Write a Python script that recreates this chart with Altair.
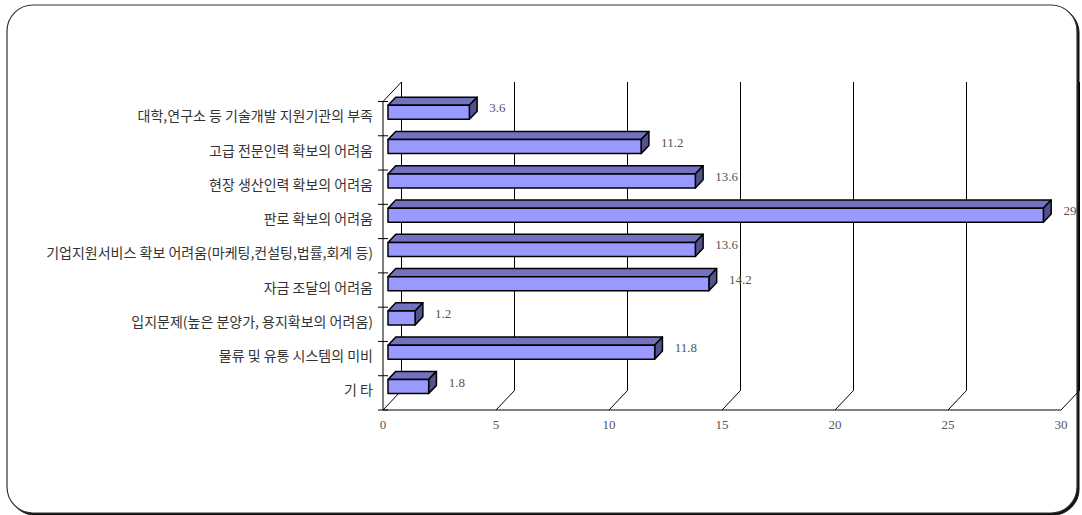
import altair as alt
import pandas as pd

# ---- data ----
categories = [
    "대학,연구소 등 기술개발 지원기관의 부족",
    "고급 전문인력 확보의 어려움",
    "현장 생산인력 확보의 어려움",
    "판로 확보의 어려움",
    "기업지원서비스 확보 어려움(마케팅,컨설팅,법률,회계 등)",
    "자금 조달의 어려움",
    "입지문제(높은 분양가, 용지확보의 어려움)",
    "물류 및 유통 시스템의 미비",
    "기 타",
]
values = [3.6, 11.2, 13.6, 29, 13.6, 14.2, 1.2, 11.8, 1.8]
value_labels = ["3.6", "11.2", "13.6", "29", "13.6", "14.2", "1.2", "11.8", "1.8"]
x_ticks = [0, 5, 10, 15, 20, 25, 30]

# ---- geometry (styling) ----
W, H = 697, 328
PAD_L, PAD_T = 383, 82
PX_PER_X = 22.6
X_MAX = W / PX_PER_X
WALL_DX_PX, WALL_DY_PX = 18.5, 19.5
N = len(categories)
ROW_PX = (H - WALL_DY_PX) / N
DX = WALL_DX_PX / PX_PER_X
DY = WALL_DY_PX / ROW_PX
Y_MAX = N + DY
FRONT = 0.27      # bar front face position within the depth
DEPTH = 0.42      # bar depth as a fraction of the wall depth
HALF = 7.0 / ROW_PX

FRONT_COL = "#9999FF"
TOP_COL = "#7272C0"
SIDE_COL = "#52528F"

xs = alt.Scale(domain=[0, X_MAX], range=[0, W], nice=False, zero=False)
ys = alt.Scale(domain=[0, Y_MAX], range=[H, 0], nice=False, zero=False)


def X(f):
    return alt.X(f, type="quantitative", scale=xs, axis=None, stack=None)


def X2(f):
    return alt.X2(f)


def Y(f):
    return alt.Y(f, type="quantitative", scale=ys, axis=None, stack=None)


def Y2(f):
    return alt.Y2(f)


front_rows, top_rows, side_rows, lab_rows, cat_rows = [], [], [], [], []
bdx, bdy = DEPTH * DX, DEPTH * DY
for i, (cat, v, lab) in enumerate(zip(categories, values, value_labels)):
    c = (N - 1 - i) + 0.5
    fx0 = FRONT * DX
    fx1 = v + FRONT * DX
    fy0 = c - HALF + FRONT * DY + 0.03
    fy1 = c + HALF + FRONT * DY + 0.03
    front_rows.append(dict(cat=cat, x=fx0, x2=fx1, y=fy0, y2=fy1))
    top_rows.append(dict(cat=cat, y=fy1, x=fx0, x2=fx1))
    top_rows.append(dict(cat=cat, y=fy1 + bdy, x=fx0 + bdx, x2=fx1 + bdx))
    side_rows.append(dict(cat=cat, x=fx1, y=fy0, y2=fy1))
    side_rows.append(dict(cat=cat, x=fx1 + bdx, y=fy0 + bdy, y2=fy1 + bdy))
    lab_rows.append(dict(lab=lab, x=fx1 + 20.0 / PX_PER_X, y=c + 0.3))
    cat_rows.append(dict(cat=cat, y=c + 0.04))

front_df = pd.DataFrame(front_rows)
top_df = pd.DataFrame(top_rows)
side_df = pd.DataFrame(side_rows)
lab_df = pd.DataFrame(lab_rows)
cat_df = pd.DataFrame(cat_rows)

grid_rows = []
for t in x_ticks:
    grid_rows.append(dict(x=t, y=0, x2=t + DX, y2=DY))
    grid_rows.append(dict(x=t + DX, y=DY, x2=t + DX, y2=Y_MAX))
grid_rows.append(dict(x=0, y=0, x2=0, y2=N))
grid_rows.append(dict(x=0, y=N, x2=DX, y2=N + DY))
grid_rows.append(dict(x=0, y=0, x2=x_ticks[-1], y2=0))
grid_df = pd.DataFrame(grid_rows)

ytick_df = pd.DataFrame({"y": list(range(N + 1))})
xtick_df = pd.DataFrame({"t": x_ticks, "lab": [str(t) for t in x_ticks]})
one = pd.DataFrame({"k": [0]})

shadow = alt.Chart(one).mark_rect(cornerRadius=26, fill="#111", stroke="#111").encode(
    x=alt.value(-376 + 2), x2=alt.value(694 + 2), y=alt.value(-77 + 2), y2=alt.value(431 + 2)
)
frame = alt.Chart(one).mark_rect(cornerRadius=26, fill="white", stroke="#333", strokeWidth=1.2).encode(
    x=alt.value(-376), x2=alt.value(694), y=alt.value(-77), y2=alt.value(431)
)

grid = alt.Chart(grid_df).mark_rule(color="black", strokeWidth=1).encode(
    x=X("x"), x2=X2("x2"), y=Y("y"), y2=Y2("y2")
)

yticks = alt.Chart(ytick_df).mark_rule(color="black", strokeWidth=1).encode(
    x=alt.value(-5), x2=alt.value(5), y=Y("y")
)

top = alt.Chart(top_df).mark_area(
    orient="horizontal", fill=TOP_COL, stroke="black", strokeWidth=1.5, strokeJoin="round"
).encode(y=Y("y"), x=X("x"), x2=X2("x2"), detail="cat:N")

side = alt.Chart(side_df).mark_area(
    orient="vertical", fill=SIDE_COL, stroke="black", strokeWidth=1.5, strokeJoin="round"
).encode(x=X("x"), y=Y("y"), y2=Y2("y2"), detail="cat:N")

front = alt.Chart(front_df).mark_rect(
    fill=FRONT_COL, stroke="black", strokeWidth=1.5, strokeJoin="round"
).encode(x=X("x"), x2=X2("x2"), y=Y("y"), y2=Y2("y2"))

vlabels = alt.Chart(lab_df).mark_text(
    align="left", baseline="middle", font="Liberation Serif", fontSize=13, color="#555"
).encode(x=X("x"), y=Y("y"), text="lab:N")

clabels = alt.Chart(cat_df).mark_text(
    align="right", baseline="middle", font="Noto Sans CJK KR", fontSize=14, color="#333"
).encode(x=alt.value(-10), y=Y("y"), text="cat:N")

xlabels = alt.Chart(xtick_df).mark_text(
    align="center", baseline="middle", font="Liberation Serif", fontSize=13, color="#555"
).encode(x=X("t"), y=alt.value(H + 15), text="lab:N")

chart = alt.layer(
    shadow, frame, grid, yticks, top, side, front, vlabels, clabels, xlabels
).properties(
    width=W,
    height=H,
    autosize=alt.AutoSizeParams(type="none"),
    padding={"left": PAD_L, "top": PAD_T, "right": 1082 - PAD_L - W, "bottom": 515 - PAD_T - H},
    background="white",
).configure_view(stroke=None)

chart.save("out.html", embed_options={"renderer": "svg", "actions": False})
